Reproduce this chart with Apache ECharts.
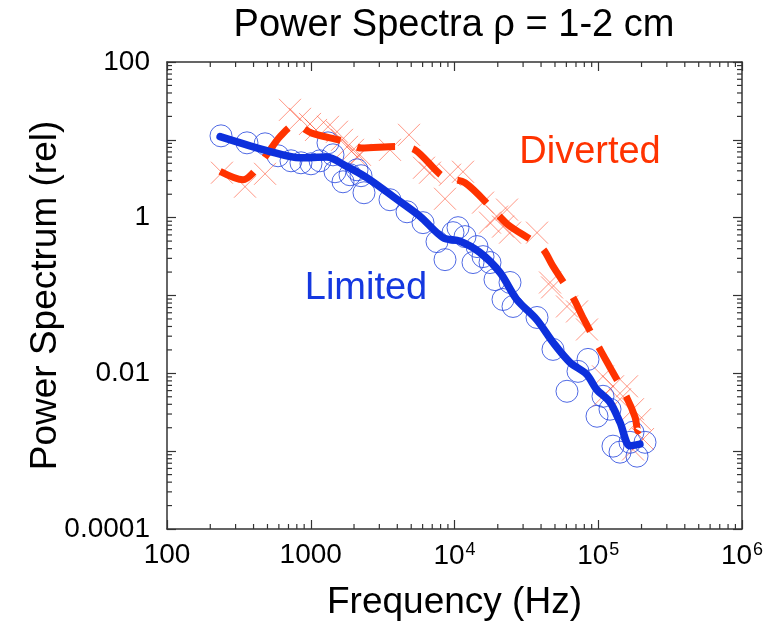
<!DOCTYPE html>
<html><head><meta charset="utf-8">
<script src="https://cdn.jsdelivr.net/npm/echarts@6/dist/echarts.min.js"></script>
<style>html,body{margin:0;padding:0;background:#fff}#c{width:770px;height:622px}</style>
</head><body><div id="c"></div>
<script>
// ---- data ----
const limitedLineF = [234,520,841,1291,1778,2449,3733,5755,8318,10920,15040,20750,27100,37300,48500,63600,83100,97500,120700,141600,166300,195000];
const limitedLineP = [11.0,7.08,5.87,6.0,4.55,3.26,1.87,1.04,0.555,0.497,0.356,0.197,0.089,0.049,0.0249,0.0138,0.0097,0.0062,0.00425,0.00235,0.00117,0.00123];

const divertedLineF = [234,338,397,494,611,777,1016,1730,2260,3960,5310,8320,11830,18530,23550,40400,48400,66700,78300,102800,120800,157800,180300,189200,204800];
const divertedLineP = [3.93,3.07,3.77,6.43,11.0,15.6,12.2,9.5,7.84,8.2,7.44,3.38,2.81,1.27,0.813,0.41,0.238,0.094,0.052,0.0203,0.0119,0.0049,0.00273,0.00182,0.00273];

const limitedPtsF = [237.5,360,481,592,729,855,1004,1160,1318,1428,1475,1676,1875,2098,2237,2346,3558,4673,6037,7555,8589,9762,10580,11830,14340,13450,15790,17660,19130,24330,21750,25530,37500,48430,72290,84850,60600,107900,98000,120700,126600,141700,166300,186100,211500,174400];
const limitedPtsP = [11.25,9.15,8.89,6.24,5.38,5.07,4.92,5.38,9.15,6.42,3.89,2.89,3.56,4.12,3.46,2.09,1.70,1.19,0.863,0.492,0.289,0.642,0.744,0.571,0.425,0.265,0.316,0.265,0.160,0.147,0.0889,0.0723,0.0522,0.0203,0.0106,0.0151,0.00588,0.00507,0.00281,0.00346,0.00116,0.000971,0.0013,0.000863,0.0013,0.00175];

const divertedPtsF = [241,349,481,717,842,988,1088,1318,1522,1650,1788,1967,2200,2098,3558,4826,6134,6754,8589,9305,11460,15790,19760,23190,17660,21750,24330,37500,46160,47680,60600,71150,83500,107900,126600,158500,107900,141700,174400,195200,204800,174400];
const divertedPtsP = [3.78,2.50,3.66,24.3,18.6,16.0,13.4,14.7,12.7,10.0,8.13,7.44,6.42,6.05,7.44,11.6,4.38,3.78,1.75,3.56,3.89,1.56,1.03,1.27,0.863,0.767,0.642,0.642,0.147,0.127,0.0723,0.0624,0.0366,0.00915,0.00681,0.00681,0.00507,0.00464,0.00346,0.00257,0.00143,0.00105];

const xTickLabels = ['100','1000','10^4','10^5','10^6'];
const yTickLabels = ['0.0001','','0.01','','1','','100'];

const X_MIN = 100, X_MAX = 1e6, Y_MIN = 1e-4, Y_MAX = 100;

function zip(a, b) { return a.map((v, i) => [v, b[i]]); }

// minor tick positions (2..9 x 10^k) on all four sides
const mult = [2,3,4,5,6,7,8,9];
const minorTicks = [];
for (let e = 2; e < 6; e++) for (const m of mult) {
  const v = m * Math.pow(10, e);
  minorTicks.push([v, Y_MIN, 0]); minorTicks.push([v, Y_MAX, 1]);
}
for (let e = -4; e < 2; e++) for (const m of mult) {
  const v = m * Math.pow(10, e);
  minorTicks.push([X_MIN, v, 2]); minorTicks.push([X_MAX, v, 3]);
}

const FONT = '"Liberation Sans", Arial, Helvetica, sans-serif';
const AX = '#333';
const BLUE = '#0d30dc';
const RED = '#ff3300';

const chart = echarts.init(document.getElementById('c'), null, {renderer: 'canvas'});

function xFmt(v) {
  const e = Math.round(Math.log10(v));
  const s = xTickLabels[e - 2];
  if (!s) return '';
  if (s.indexOf('^') < 0) return s;
  const [b, p] = s.split('^');
  return '{b|' + b + '}{s|' + p + '}';
}
function yFmt(v) {
  const e = Math.round(Math.log10(v));
  return yTickLabels[e + 4] || '';
}

const baseAxis = {
  type: 'log', logBase: 10,
  axisLine: {show: true, lineStyle: {color: AX, width: 1.5}},
  axisTick: {show: true, inside: true, length: 9, lineStyle: {color: AX, width: 1.2}},
  splitLine: {show: false},
  minorTick: {show: false},
};

chart.setOption({
  animation: false,
  backgroundColor: '#fff',
  grid: {left: 167, right: 28, top: 62, bottom: 93, containLabel: false, outerBoundsMode: 'none'},
  xAxis: [
    Object.assign({}, baseAxis, {
      min: X_MIN, max: X_MAX, interval: 1, position: 'bottom',
      name: 'Frequency (Hz)', nameLocation: 'middle', nameGap: 55, nameMoveOverlap: false,
      nameTextStyle: {fontFamily: FONT, fontSize: 37, color: '#000'},
      axisLabel: {
        show: true, margin: 12, formatter: xFmt, color: '#000',
        fontFamily: FONT, fontSize: 28,
        rich: {
          b: {fontFamily: FONT, fontSize: 28, color: '#000', lineHeight: 30},
          s: {fontFamily: FONT, fontSize: 18, color: '#000', verticalAlign: 'top', lineHeight: 30, padding: [0, 0, 0, 1]}
        }
      }
    }),
    Object.assign({}, baseAxis, {
      min: X_MIN, max: X_MAX, interval: 1, position: 'top', axisLabel: {show: false}
    })
  ],
  yAxis: [
    Object.assign({}, baseAxis, {
      min: Y_MIN, max: Y_MAX, interval: 1, position: 'left',
      name: 'Power Spectrum (rel)', nameLocation: 'middle', nameGap: 103, nameRotate: 90, nameMoveOverlap: false,
      nameTextStyle: {fontFamily: FONT, fontSize: 37, color: '#000'},
      axisLabel: {show: true, margin: 17, formatter: yFmt, color: '#000', fontFamily: FONT, fontSize: 28}
    }),
    Object.assign({}, baseAxis, {
      min: Y_MIN, max: Y_MAX, interval: 1, position: 'right', axisLabel: {show: false}
    })
  ],
  graphic: [
    {type: 'text', style: {text: 'Power Spectra \u03c1 = 1-2 cm', x: 454, y: 26, textAlign: 'center', textVerticalAlign: 'middle', font: '38px ' + FONT, fill: '#000'}},
    {type: 'text', style: {text: 'Diverted', x: 590, y: 153, textAlign: 'center', textVerticalAlign: 'middle', font: '38px ' + FONT, fill: RED}, z: 50},
    {type: 'text', style: {text: 'Limited', x: 366, y: 289, textAlign: 'center', textVerticalAlign: 'middle', font: '38px ' + FONT, fill: '#1538e0'}, z: 50}
  ],
  series: [
    {
      name: 'Diverted pts', type: 'scatter', data: zip(divertedPtsF, divertedPtsP),
      symbol: 'path://M0,0L10,10M10,0L0,10', symbolSize: 22,
      itemStyle: {color: 'rgba(0,0,0,0)', borderColor: 'rgba(255,80,50,0.75)', borderWidth: 1},
      silent: true, z: 2
    },
    {
      name: 'Limited pts', type: 'scatter', data: zip(limitedPtsF, limitedPtsP),
      symbol: 'circle', symbolSize: 22,
      itemStyle: {color: 'rgba(0,0,0,0)', borderColor: '#2445dd', borderWidth: 1},
      silent: true, z: 3
    },
    {
      name: 'Diverted', type: 'line', data: zip(divertedLineF, divertedLineP),
      smooth: 0.3, showSymbol: false, symbol: 'none',
      lineStyle: {color: RED, width: 7, type: [38, 18], cap: 'butt'},
      silent: true, z: 4
    },
    {
      name: 'Limited', type: 'line', data: zip(limitedLineF, limitedLineP),
      smooth: 0.3, showSymbol: false, symbol: 'none',
      lineStyle: {color: BLUE, width: 7.5, cap: 'round', join: 'round'},
      silent: true, z: 5
    },
    {
      name: 'minor ticks', type: 'custom', data: minorTicks, clip: false, silent: true, z: 10,
      encode: {x: 0, y: 1},
      renderItem: function (params, api) {
        const p = api.coord([api.value(0), api.value(1)]);
        const side = api.value(2);
        const len = 5;
        let x2 = p[0], y2 = p[1];
        if (side === 0) y2 -= len; else if (side === 1) y2 += len; else if (side === 2) x2 += len; else x2 -= len;
        return {type: 'line', shape: {x1: p[0], y1: p[1], x2: x2, y2: y2}, style: {stroke: AX, lineWidth: 1.2}};
      }
    }
  ]
});
</script>
</body></html>
